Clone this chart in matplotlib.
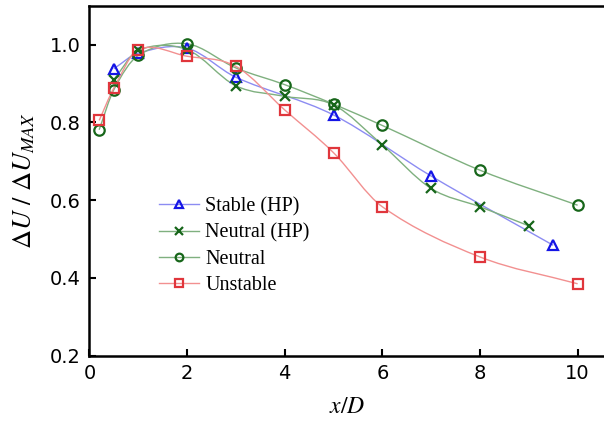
import numpy as np
import matplotlib
matplotlib.use("Agg")
import matplotlib.pyplot as plt
from matplotlib.path import Path
from matplotlib.patches import PathPatch
from matplotlib.lines import Line2D

plt.rcParams['mathtext.fontset'] = 'stix'

# data
x_stable = [0.5, 1, 2, 3, 5, 7, 9.5]
y_stable = [0.938, 0.978, 0.991, 0.916, 0.819, 0.662, 0.484]

x_neutral_hp = [0.5, 1, 2, 3, 4, 5, 6, 7, 8, 9]
y_neutral_hp = [0.910, 0.985, 0.987, 0.894, 0.867, 0.845, 0.742, 0.630, 0.583, 0.534]

x_neutral = [0.2, 0.5, 1, 2, 3, 4, 5, 6, 8, 10]
y_neutral = [0.781, 0.884, 0.972, 1.002, 0.940, 0.897, 0.847, 0.792, 0.677, 0.587]

x_unstable = [0.2, 0.5, 1, 2, 3, 4, 5, 6, 8, 10]
y_unstable = [0.805, 0.888, 0.987, 0.970, 0.944, 0.832, 0.722, 0.583, 0.454, 0.385]


def smooth_path(xs, ys):
    # cubic hermite through the points, drawn as bezier segments
    xs = np.asarray(xs, float)
    ys = np.asarray(ys, float)
    n = len(xs)
    m = np.zeros(n)
    for i in range(n):
        if i == 0:
            m[i] = (ys[1] - ys[0]) / (xs[1] - xs[0])
        elif i == n - 1:
            m[i] = (ys[-1] - ys[-2]) / (xs[-1] - xs[-2])
        else:
            m[i] = (ys[i + 1] - ys[i - 1]) / (xs[i + 1] - xs[i - 1])
    verts = [(xs[0], ys[0])]
    codes = [Path.MOVETO]
    for i in range(n - 1):
        h = xs[i + 1] - xs[i]
        verts += [(xs[i] + h / 3, ys[i] + m[i] * h / 3),
                  (xs[i + 1] - h / 3, ys[i + 1] - m[i + 1] * h / 3),
                  (xs[i + 1], ys[i + 1])]
        codes += [Path.CURVE4] * 3
    return Path(verts, codes)


series = [
    ('Stable (HP)', x_stable, y_stable, '^', '#1414e6', '#8c8cf2'),
    ('Neutral (HP)', x_neutral_hp, y_neutral_hp, 'x', '#17661a', '#7fb07f'),
    ('Neutral', x_neutral, y_neutral, 'o', '#17661a', '#7fb07f'),
    ('Unstable', x_unstable, y_unstable, 's', '#e0363c', '#f29090'),
]

fig = plt.figure(figsize=(6.04, 4.21), dpi=100)
ax = fig.add_axes([0.148, 0.155, 0.852, 0.8315])

handles = []
for i, (name, xs, ys, mk, mc, lc) in enumerate(series):
    ax.add_patch(PathPatch(smooth_path(xs, ys), facecolor='none',
                           edgecolor=lc, lw=1.0, zorder=2))
    ax.plot(xs, ys, linestyle='none', marker=mk, ms=7.5,
            mfc='none', mec=mc, mew=1.6, zorder=3 + i)
    handles.append(Line2D([], [], color=lc, lw=1.0, marker=mk, ms=5.5,
                          mfc='none', mec=mc, mew=1.6, label=name))

ax.set_xlim(0, 10.54)
ax.set_ylim(0.2, 1.1)
ax.set_xticks([0, 2, 4, 6, 8, 10])
ax.set_yticks([0.2, 0.4, 0.6, 0.8, 1.0])
ax.set_yticklabels(['0.2', '0.4', '0.6', '0.8', '1.0'])
ax.tick_params(direction='in', length=5, width=1.5, labelsize=14, pad=6)

ax.spines['right'].set_visible(False)
for s in ['left', 'bottom', 'top']:
    ax.spines[s].set_linewidth(1.8)

ax.set_xlabel('$x/D$', fontsize=17, labelpad=8)
ax.set_ylabel(r'$\Delta U\ /\ \Delta U_{MAX}$', fontsize=19, labelpad=9)

ax.legend(handles=handles, loc='upper left', bbox_to_anchor=(0.1, 0.505),
          frameon=False, handlelength=2.0, handletextpad=0.3,
          labelspacing=0.35, prop={'family': 'Liberation Serif', 'size': 14.5})

fig.savefig('out.png', dpi=100)
